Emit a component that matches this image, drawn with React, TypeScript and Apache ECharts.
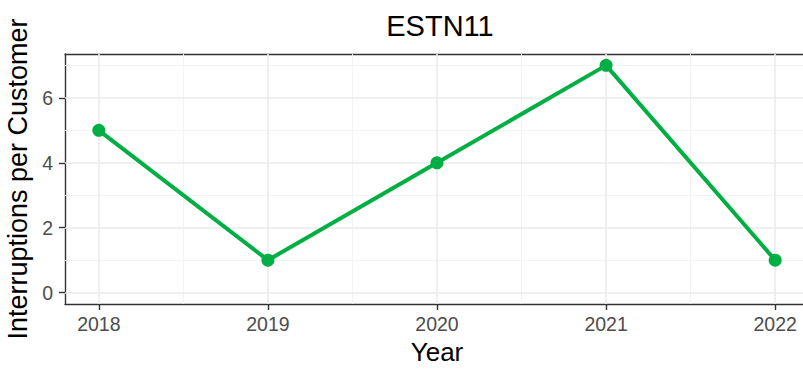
import React, { useEffect, useRef } from "react";
import * as echarts from "echarts";

const years = [2018, 2019, 2020, 2021, 2022];
const values = [5, 1, 4, 7, 1];
const yMajor = [0, 2, 4, 6];
const yMinor = [1, 3, 5, 7];
const xMinor = [2018.5, 2019.5, 2020.5, 2021.5];

const FONT = "Liberation Sans, Arial, sans-serif";

export default function App() {
  const ref = useRef<HTMLDivElement>(null);
  useEffect(() => {
    if (!ref.current) return;
    const chart = echarts.init(ref.current, null, { renderer: "svg" });
    const majorStyle = { color: "#EBEBEB", width: 1.6, type: "solid" };
    const minorStyle = { color: "#F2F2F2", width: 0.9, type: "solid" };
    const gridLines = [
      ...yMinor.map((v) => ({ yAxis: v, lineStyle: minorStyle })),
      ...xMinor.map((v) => ({ xAxis: v, lineStyle: minorStyle })),
      ...yMajor.map((v) => ({ yAxis: v, lineStyle: majorStyle })),
      ...years.map((v) => ({ xAxis: v, lineStyle: majorStyle })),
    ];
    const border = { show: true, lineStyle: { color: "#333333", width: 1.4 } };
    chart.setOption({
      animation: false,
      backgroundColor: "#ffffff",
      title: {
        text: "ESTN11",
        left: 435,
        top: 6,
        textAlign: "center",
        textStyle: { fontFamily: FONT, fontSize: 29, fontWeight: "normal", color: "#000" },
      },
      grid: {
        left: 65,
        top: 54,
        width: 744,
        height: 250,
        outerBoundsMode: "none",
        containLabel: false,
        show: false,
      },
      xAxis: [
        {
          type: "value",
          position: "bottom",
          min: 2017.8,
          max: 2022.2,
          name: "Year",
          nameLocation: "middle",
          nameGap: 32,
          nameTextStyle: { fontFamily: FONT, fontSize: 26, color: "#000" },
          axisLine: { ...border, onZero: false },
          axisTick: { show: true, length: 6, customValues: years, lineStyle: { color: "#333", width: 1.4 } },
          axisLabel: {
            customValues: years,
            fontFamily: FONT,
            fontSize: 19.5,
            color: "#4D4D4D",
            margin: 10,
            formatter: (v: number) => String(v),
          },
          splitLine: { show: false },
        },
        {
          type: "value",
          position: "top",
          min: 2017.8,
          max: 2022.2,
          axisLine: { ...border, onZero: false },
          axisTick: { show: false },
          axisLabel: { show: false },
          splitLine: { show: false },
        },
      ],
      yAxis: {
        type: "value",
        position: "left",
        min: -0.35,
        max: 7.35,
        name: "Interruptions per Customer",
        nameLocation: "middle",
        nameGap: 29,
        nameTextStyle: { fontFamily: FONT, fontSize: 27, color: "#000" },
        axisLine: { ...border, onZero: false },
        axisTick: { show: true, length: 6, customValues: yMajor, lineStyle: { color: "#333", width: 1.4 } },
        axisLabel: {
          customValues: yMajor,
          fontFamily: FONT,
          fontSize: 19.5,
          color: "#4D4D4D",
          margin: 12,
          formatter: (v: number) => String(v),
        },
        splitLine: { show: false },
      },
      series: [
        {
          type: "line",
          data: [],
          z: 1,
          silent: true,
          markLine: {
            silent: true,
            z: 1,
            symbol: "none",
            label: { show: false },
            data: gridLines,
          },
        },
        {
          type: "line",
          z: 3,
          data: years.map((y, i) => [y, values[i]]),
          symbol: "circle",
          symbolSize: 13,
          itemStyle: { color: "#00AF43" },
          lineStyle: { color: "#00AF43", width: 4 },
        },
      ],
    });
    return () => chart.dispose();
  }, []);
  return (
    <div
      ref={ref}
      style={{ position: "absolute", left: 0, top: 0, width: 803, height: 369, overflow: "hidden" }}
    />
  );
}
